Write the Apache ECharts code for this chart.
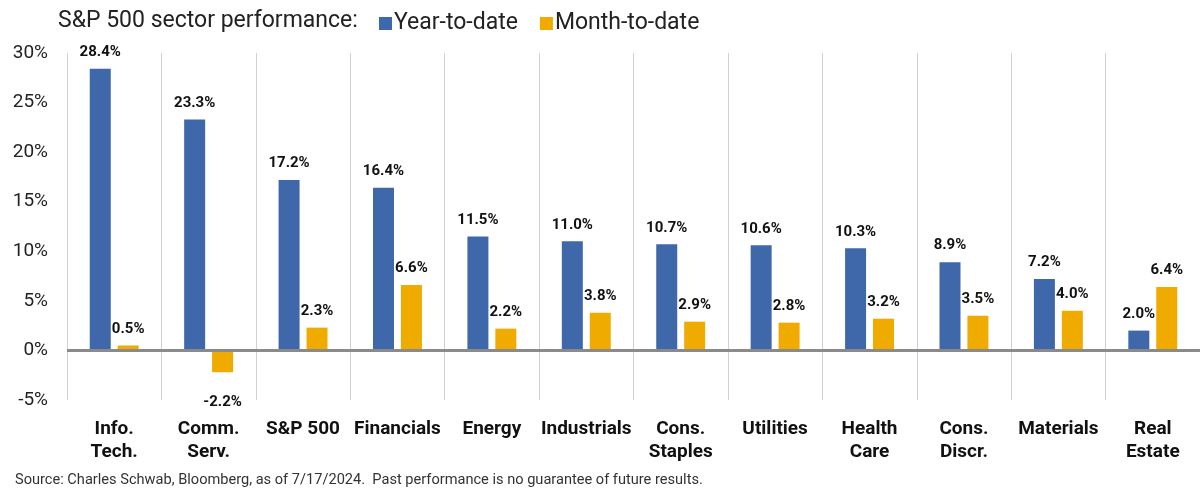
<!DOCTYPE html>
<html>
<head>
<meta charset="utf-8">
<script src="https://cdn.jsdelivr.net/npm/echarts@6/dist/echarts.min.js"></script>
<style>
  html, body { margin: 0; padding: 0; background: #fff; }
  #chart { width: 1200px; height: 496px; }
</style>
</head>
<body>
<div id="chart"></div>
<script>
// sector names (line breaks as in the original)
const sectors = [
  'Info.\nTech.', 'Comm.\nServ.', 'S&P 500', 'Financials', 'Energy', 'Industrials',
  'Cons.\nStaples', 'Utilities', 'Health\nCare', 'Cons.\nDiscr.', 'Materials', 'Real\nEstate'
];
// percent returns
const ytd = [28.4, 23.3, 17.2, 16.4, 11.5, 11.0, 10.7, 10.6, 10.3, 8.9, 7.2, 2.0];
const mtd = [0.5, -2.2, 2.3, 6.6, 2.2, 3.8, 2.9, 2.8, 3.2, 3.5, 4.0, 6.4];
const yTicks = [-5, 30, 5]; // min, max, step

const FONT = 'Roboto, "Noto Sans", sans-serif';
const BLUE = '#3f68aa';
const GOLD = '#f0ab00';

const chart = echarts.init(document.getElementById('chart'));

function valueLabel(v) {
  return {
    value: v,
    label: { position: v < 0 ? 'bottom' : 'top', distance: v < 0 ? 23 : 9 }
  };
}

let labelStyle = {
  show: true,
  formatter: p => p.value.toFixed(1) + '%',
  fontFamily: FONT,
  fontWeight: 'bold',
  fontSize: 15,
  color: '#111'
};

chart.setOption({
  animation: false,
  textStyle: { fontFamily: FONT },
  title: [
    {
      text: 'S&P 500 sector performance:',
      left: 53, top: 5,
      textStyle: { fontFamily: FONT, fontSize: 23, fontWeight: 'normal', color: '#222' }
    },
    {
      text: 'Source: Charles Schwab, Bloomberg, as of 7/17/2024.  Past performance is no guarantee of future results.',
      left: 10, top: 468,
      textStyle: { fontFamily: FONT, fontSize: 14.6, fontWeight: 'normal', color: '#333' }
    }
  ],
  legend: {
    left: 374, top: 7,
    icon: 'rect',
    itemWidth: 13, itemHeight: 13,
    itemGap: 22,
    textStyle: { fontFamily: FONT, fontSize: 23, color: '#222', padding: [0, 0, 0, -3] },
    data: ['Year-to-date', 'Month-to-date']
  },
  grid: { left: 67, right: 0, top: 53, bottom: 96 },
  xAxis: {
    type: 'category',
    data: sectors,
    axisLine: { show: false, onZero: false },
    axisTick: { show: false },
    splitLine: { show: true, lineStyle: { color: '#d0d0d0', width: 1 } },
    axisLabel: {
      interval: 0,
      margin: 18,
      fontFamily: FONT,
      fontWeight: 'bold',
      fontSize: 19,
      lineHeight: 23,
      color: '#111'
    }
  },
  yAxis: {
    type: 'value',
    min: yTicks[0], max: yTicks[1], interval: yTicks[2],
    axisLine: { show: false },
    axisTick: { show: false },
    splitLine: { show: false },
    axisLabel: {
      formatter: '{value}%',
      margin: 19,
      fontFamily: FONT,
      fontSize: 19,
      color: '#222'
    }
  },
  series: [
    {
      name: 'Year-to-date',
      type: 'bar',
      barWidth: 21,
      barGap: '33%',
      itemStyle: { color: BLUE },
      label: labelStyle,
      data: ytd.map(valueLabel),
      markLine: {
        silent: true,
        symbol: 'none',
        label: { show: false },
        lineStyle: { color: '#8a8a8a', width: 3, type: 'solid' },
        data: [{ yAxis: 0 }]
      }
    },
    {
      name: 'Month-to-date',
      type: 'bar',
      barWidth: 21,
      itemStyle: { color: GOLD },
      label: labelStyle,
      data: mtd.map(valueLabel)
    }
  ]
});
</script>
</body>
</html>
